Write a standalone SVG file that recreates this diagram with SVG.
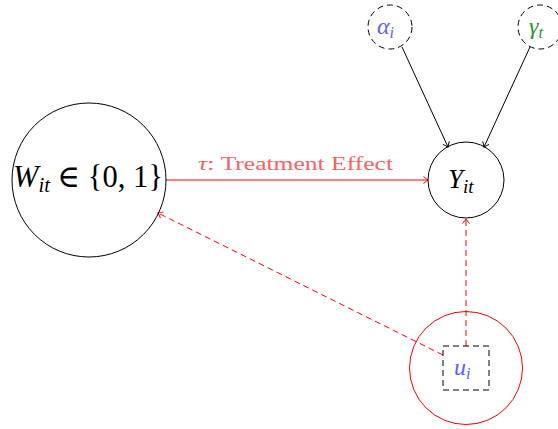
<svg xmlns="http://www.w3.org/2000/svg" width="558" height="429" viewBox="0 0 558 429">
<style>
.node{fill:none;stroke:#000;stroke-width:1}
.dash{stroke-dasharray:6,4}
.math{font-family:"Liberation Serif","DejaVu Serif",serif}
.it{font-style:italic}
</style>
<defs>
<marker id="ab" markerWidth="10" markerHeight="10" refX="0" refY="0" viewBox="-6 -5 8 10" orient="auto" markerUnits="userSpaceOnUse">
<path d="M-4.5,-3.5 Q-1.5,-1 0,0 Q-1.5,1 -4.5,3.5" fill="none" stroke="#000" stroke-width="1"/>
</marker>
<marker id="ar" markerWidth="10" markerHeight="10" refX="0" refY="0" viewBox="-6 -5 8 10" orient="auto" markerUnits="userSpaceOnUse">
<path d="M-4.5,-3.5 Q-1.5,-1 0,0 Q-1.5,1 -4.5,3.5" fill="none" stroke="#f00" stroke-width="1"/>
</marker>
</defs>
<g id="connectors">
<line x1="402" y1="47" x2="448" y2="147" stroke="#000" stroke-width="1" marker-end="url(#ab)"/>
<line x1="530" y1="47" x2="484" y2="147" stroke="#000" stroke-width="1" marker-end="url(#ab)"/>
<line x1="166" y1="180" x2="428" y2="180" stroke="#f00" stroke-width="1" marker-end="url(#ar)"/>
<text x="198" y="170" class="math" font-size="19" fill="#ff6060" textLength="195" lengthAdjust="spacingAndGlyphs"><tspan class="it">τ</tspan>: Treatment Effect</text>
<line x1="466" y1="346" x2="466" y2="219" stroke="#f00" stroke-width="1" class="dash" marker-end="url(#ar)"/>
<line x1="443" y1="355" x2="158" y2="213" stroke="#f00" stroke-width="1" class="dash" marker-end="url(#ar)"/>
</g>
<g id="node-W">
<circle cx="89" cy="180" r="77" class="node"/>
<text x="13" y="187" class="math" font-size="31" fill="#000" textLength="150" lengthAdjust="spacingAndGlyphs"><tspan class="it">W</tspan><tspan class="it" font-size="21" dy="5">it</tspan><tspan dy="-5"> ∈ {0, 1}</tspan></text>
</g>
<g id="node-Y">
<circle cx="466" cy="180" r="38" class="node"/>
<text x="448" y="188" class="math" font-size="27" fill="#000"><tspan class="it">Y</tspan><tspan class="it" font-size="19" dy="5">it</tspan></text>
</g>
<g id="node-alpha">
<circle cx="390" cy="27" r="22" class="node dash" stroke-dasharray="6,5"/>
<text x="377" y="34" class="math" font-size="24" fill="#6060ff"><tspan class="it">α</tspan><tspan class="it" font-size="16" dy="4">i</tspan></text>
</g>
<g id="node-gamma">
<circle cx="540" cy="27" r="22" class="node dash" stroke-dasharray="6,5"/>
<text x="529" y="34" class="math" font-size="24" fill="#2a962a"><tspan class="it">γ</tspan><tspan class="it" font-size="16" dy="4">t</tspan></text>
</g>
<g id="node-u">
<circle cx="466" cy="368" r="56.5" fill="none" stroke="#f00" stroke-width="1"/>
<rect x="443" y="346" width="46" height="44" class="node dash"/>
<text x="454" y="375" class="math" font-size="24" fill="#6060ff"><tspan class="it">u</tspan><tspan class="it" font-size="16" dy="4">i</tspan></text>
</g>
</svg>
